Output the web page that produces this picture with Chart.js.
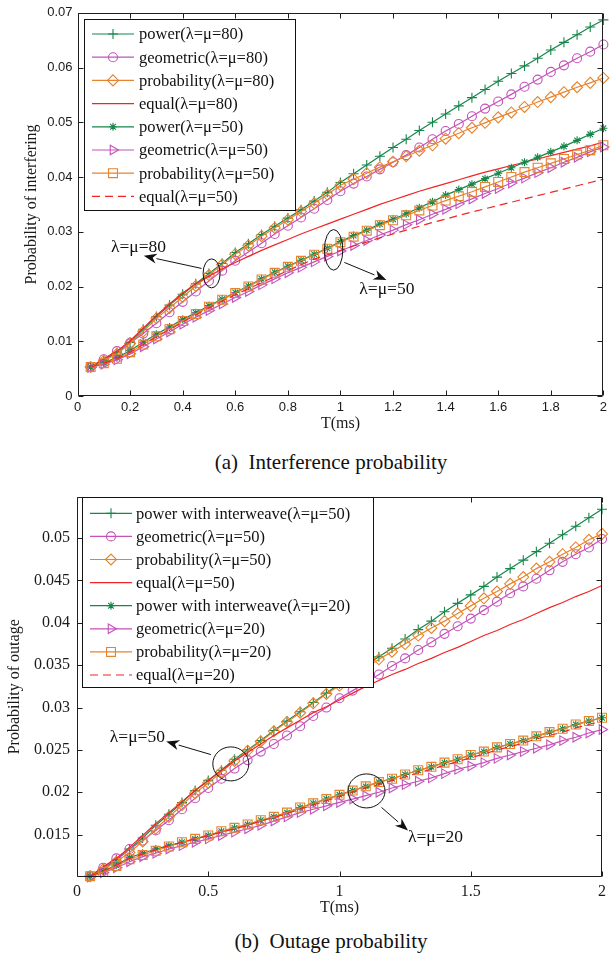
<!DOCTYPE html>
<html>
<head>
<meta charset="utf-8">
<script src="https://cdn.jsdelivr.net/npm/chart.js@4.4.1/dist/chart.umd.min.js"></script>
<style>
  html, body { margin: 0; padding: 0; background: #fff; }
  body { width: 611px; height: 956px; position: relative; overflow: hidden; }
  .panel { position: absolute; left: 0; width: 611px; height: 440px; }
  .cap { position: absolute; left: 0; width: 662px; text-align: center;
         font-family: "Liberation Serif", "Times New Roman", serif; font-size: 21px; color: #111; white-space: pre; }
</style>
</head>
<body>
<div class="panel" style="top:0"><canvas id="interf" width="611" height="440"></canvas></div>
<div class="cap" style="top:450px">(a)  Interference probability</div>
<div class="panel" style="top:480px"><canvas id="outage" width="611" height="440"></canvas></div>
<div class="cap" style="top:929px">(b)  Outage probability</div>

<script>
// ---- slot length T (ms) ----
const T = [0.05, 0.10, 0.15, 0.20, 0.25, 0.30, 0.35, 0.40, 0.45, 0.50,
           0.55, 0.60, 0.65, 0.70, 0.75, 0.80, 0.85, 0.90, 0.95, 1.00,
           1.05, 1.10, 1.15, 1.20, 1.25, 1.30, 1.35, 1.40, 1.45, 1.50,
           1.55, 1.60, 1.65, 1.70, 1.75, 1.80, 1.85, 1.90, 1.95, 2.00];

// ---- (a) probability of interfering ----
const power80 = [.0053,.0066,.0079,.0098,.0122,.0145,.0166,.0186,.0205,.0224,
                 .0242,.0262,.0278,.0295,.0310,.0325,.0340,.0356,.0372,.0390,
                 .0406,.0422,.0438,.0454,.0469,.0485,.0500,.0515,.0530,.0545,
                 .0560,.0575,.0589,.0603,.0617,.0632,.0646,.0660,.0674,.0687];
const geo80   = [.0053,.0067,.0082,.0097,.0114,.0133,.0153,.0172,.0191,.0210,
                 .0229,.0247,.0263,.0279,.0296,.0311,.0326,.0342,.0358,.0374,
                 .0388,.0401,.0414,.0427,.0440,.0454,.0469,.0484,.0497,.0511,
                 .0525,.0538,.0551,.0565,.0578,.0592,.0604,.0617,.0629,.0642];
const prob80  = [.0053,.0064,.0077,.0096,.0118,.0142,.0161,.0181,.0201,.0221,
                 .0240,.0259,.0275,.0292,.0307,.0322,.0337,.0352,.0368,.0385,
                 .0396,.0407,.0418,.0428,.0438,.0448,.0458,.0470,.0480,.0490,
                 .0499,.0509,.0518,.0528,.0537,.0546,.0555,.0564,.0572,.0581];
const equal80 = [.0053,.0068,.0082,.0101,.0124,.0147,.0168,.0188,.0205,.0219,
                 .0232,.0244,.0255,.0266,.0276,.0286,.0296,.0305,.0314,.0323,
                 .0332,.0341,.0350,.0358,.0366,.0374,.0381,.0388,.0395,.0402,
                 .0409,.0415,.0421,.0427,.0433,.0439,.0445,.0451,.0457,.0464];
const power50 = [.0053,.0061,.0070,.0083,.0098,.0113,.0126,.0140,.0152,.0165,
                 .0177,.0189,.0201,.0214,.0226,.0237,.0248,.0259,.0270,.0282,
                 .0293,.0303,.0314,.0323,.0333,.0344,.0355,.0367,.0377,.0387,
                 .0397,.0407,.0417,.0427,.0436,.0446,.0456,.0467,.0478,.0489];
const geo50   = [.0052,.0058,.0066,.0077,.0090,.0104,.0117,.0131,.0144,.0156,
                 .0168,.0180,.0191,.0203,.0214,.0225,.0235,.0245,.0255,.0265,
                 .0275,.0284,.0294,.0303,.0313,.0322,.0332,.0341,.0351,.0360,
                 .0370,.0379,.0389,.0398,.0408,.0417,.0427,.0436,.0446,.0455];
const prob50  = [.0053,.0060,.0068,.0080,.0094,.0109,.0122,.0137,.0150,.0163,
                 .0176,.0188,.0200,.0213,.0225,.0236,.0247,.0258,.0269,.0281,
                 .0291,.0302,.0312,.0321,.0330,.0339,.0348,.0357,.0365,.0373,
                 .0382,.0391,.0400,.0409,.0417,.0425,.0433,.0441,.0449,.0458];
const equal50 = [.0053,.0060,.0068,.0080,.0094,.0108,.0121,.0135,.0148,.0161,
                 .0173,.0185,.0196,.0207,.0218,.0229,.0240,.0250,.0258,.0266,
                 .0274,.0281,.0289,.0296,.0303,.0310,.0317,.0323,.0330,.0336,
                 .0342,.0348,.0354,.0360,.0366,.0372,.0378,.0384,.0390,.0396];

// ---- (b) probability of outage ----
const powerOut50 = [.0101,.0110,.0120,.0133,.0146,.0161,.0174,.0188,.0202,.0214,
                    .0226,.0239,.0250,.0261,.0273,.0284,.0295,.0306,.0317,.0328,
                    .0339,.0350,.0360,.0370,.0381,.0392,.0402,.0413,.0423,.0433,
                    .0443,.0454,.0464,.0474,.0484,.0494,.0504,.0514,.0524,.0534];
const geoOut50   = [.0101,.0111,.0122,.0133,.0143,.0155,.0167,.0180,.0193,.0205,
                    .0216,.0228,.0238,.0248,.0257,.0267,.0278,.0290,.0300,.0311,
                    .0320,.0329,.0339,.0349,.0358,.0368,.0377,.0387,.0396,.0405,
                    .0415,.0425,.0435,.0443,.0452,.0462,.0472,.0481,.0489,.0499];
const probOut50  = [.0101,.0109,.0118,.0129,.0142,.0157,.0171,.0185,.0199,.0211,
                    .0224,.0237,.0249,.0260,.0272,.0283,.0294,.0305,.0316,.0326,
                    .0336,.0347,.0357,.0366,.0375,.0385,.0394,.0402,.0411,.0420,
                    .0429,.0437,.0446,.0454,.0464,.0472,.0481,.0489,.0498,.0505];
const equalOut50 = [.0101,.0112,.0122,.0135,.0149,.0163,.0176,.0189,.0202,.0214,
                    .0226,.0237,.0247,.0257,.0267,.0276,.0285,.0294,.0301,.0309,
                    .0317,.0325,.0332,.0339,.0345,.0352,.0358,.0365,.0371,.0378,
                    .0385,.0391,.0398,.0404,.0411,.0418,.0424,.0431,.0437,.0444];
const powerOut20 = [.0101,.0107,.0114,.0123,.0128,.0133,.0137,.0141,.0145,.0149,
                    .0154,.0158,.0162,.0167,.0171,.0176,.0182,.0187,.0192,.0197,
                    .0202,.0207,.0212,.0216,.0221,.0226,.0230,.0235,.0239,.0244,
                    .0248,.0253,.0257,.0261,.0266,.0271,.0275,.0280,.0284,.0288];
const geoOut20   = [.0100,.0105,.0111,.0118,.0124,.0128,.0133,.0137,.0141,.0145,
                    .0149,.0153,.0157,.0161,.0166,.0171,.0176,.0180,.0184,.0188,
                    .0192,.0196,.0200,.0205,.0209,.0213,.0217,.0222,.0227,.0231,
                    .0235,.0240,.0244,.0248,.0252,.0256,.0261,.0265,.0270,.0274];
const probOut20  = [.0101,.0106,.0113,.0121,.0126,.0131,.0136,.0141,.0145,.0149,
                    .0154,.0158,.0162,.0167,.0171,.0176,.0182,.0187,.0192,.0197,
                    .0202,.0207,.0212,.0216,.0221,.0226,.0230,.0235,.0239,.0244,
                    .0248,.0253,.0257,.0261,.0266,.0271,.0275,.0280,.0284,.0288];
const equalOut20 = [.0101,.0107,.0114,.0122,.0127,.0132,.0137,.0141,.0145,.0149,
                    .0153,.0157,.0161,.0166,.0170,.0175,.0180,.0185,.0190,.0195,
                    .0200,.0205,.0209,.0214,.0218,.0223,.0227,.0232,.0236,.0241,
                    .0245,.0250,.0254,.0258,.0263,.0267,.0271,.0276,.0280,.0284];

// ---- axis ticks ----
const interfTicksX = [0, 0.2, 0.4, 0.6, 0.8, 1, 1.2, 1.4, 1.6, 1.8, 2];
const interfTicksY = [0, 0.01, 0.02, 0.03, 0.04, 0.05, 0.06, 0.07];
const outageTicksX = [0, 0.5, 1, 1.5, 2];
const outageTicksY = [0.015, 0.02, 0.025, 0.03, 0.035, 0.04, 0.045, 0.05];

// ---------------------------------------------------------------
const GREEN = '#16864a', MAGENTA = '#c452b8', ORANGE = '#e6832c', RED = '#f02626';
const SERIF = '"Liberation Serif", "Times New Roman", serif';
const SANS = '"Liberation Sans", Arial, sans-serif';

const MARK = {
  plus:    { pointStyle: 'cross', pointRadius: 5 },
  circle:  { pointStyle: 'circle', pointRadius: 4.5 },
  diamond: { pointStyle: 'rectRot', pointRadius: 5.5 },
  star:    { pointStyle: 'star', pointRadius: 4 },
  tri:     { pointStyle: 'triangle', pointRadius: 5.5, pointRotation: 90 },
  square:  { pointStyle: 'rect', pointRadius: 6.3 },
  none:    { pointRadius: 0 },
  dashed:  { pointRadius: 0, borderDash: [8, 5] }
};

function series(label, values, color, mark, idx) {
  return Object.assign({
    label,
    data: T.map((t, i) => ({ x: t, y: values[i] })),
    borderColor: color, borderWidth: 1.2,
    pointBorderColor: color, pointBackgroundColor: 'rgba(0,0,0,0)',
    pointBorderWidth: 1.1, pointHoverRadius: 0, pointRotation: 0,
    tension: 0, fill: false, clip: false, order: -idx
  }, MARK[mark]);
}

const fmt = v => String(+Number(v).toFixed(4));

function axis(ticksList, min, max, fontSpec, labelPad, title, titleFont, titlePad, size, isX) {
  return {
    type: 'linear', min, max,
    afterBuildTicks: sc => { sc.ticks = ticksList.map(v => ({ value: v })); },
    ticks: { font: fontSpec, color: '#1a1a1a', padding: labelPad, autoSkip: false,
             maxRotation: 0, callback: v => fmt(v) },
    grid: { display: false, drawTicks: false },
    border: { display: false },
    title: { display: true, text: title, font: titleFont, color: '#1a1a1a', padding: titlePad },
    afterFit: sc => { if (isX) sc.height = size; else sc.width = size; }
  };
}

// frame box with inward tick marks on all four sides, callouts, legend
const decor = {
  id: 'decor',
  afterDraw(chart, args, opts) {
    const { ctx, chartArea: a, scales: { x, y } } = chart;
    const L = Math.round(a.left) + 0.5, R = Math.round(a.right) - 0.5;
    const Tp = Math.round(a.top) + 0.5, B = Math.round(a.bottom) - 0.5;
    ctx.save();
    ctx.strokeStyle = '#1e1e1e';
    ctx.lineWidth = 1;
    ctx.beginPath();
    ctx.rect(L, Tp, R - L, B - Tp);
    const tl = 5;
    x.ticks.forEach(t => {
      const px = Math.round(x.getPixelForValue(t.value)) + 0.5;
      ctx.moveTo(px, B); ctx.lineTo(px, B - tl);
      ctx.moveTo(px, Tp); ctx.lineTo(px, Tp + tl);
    });
    y.ticks.forEach(t => {
      const py = Math.round(y.getPixelForValue(t.value)) + 0.5;
      ctx.moveTo(L, py); ctx.lineTo(L + tl, py);
      ctx.moveTo(R, py); ctx.lineTo(R - tl, py);
    });
    ctx.stroke();

    // ellipse around a group of curves, arrow pointing to its label
    (opts.callouts || []).forEach(c => {
      const cx = x.getPixelForValue(c.at[0]), cy = y.getPixelForValue(c.at[1]);
      ctx.strokeStyle = '#111'; ctx.lineWidth = 1;
      ctx.beginPath(); ctx.ellipse(cx, cy, c.rx, c.ry, 0, 0, Math.PI * 2); ctx.stroke();
      const x0 = x.getPixelForValue(c.from[0]), y0 = y.getPixelForValue(c.from[1]);
      const x1 = x.getPixelForValue(c.to[0]), y1 = y.getPixelForValue(c.to[1]);
      const ang = Math.atan2(y1 - y0, x1 - x0);
      const hl = 13, hw = 5;
      const bx = x1 - hl * Math.cos(ang), by = y1 - hl * Math.sin(ang);
      ctx.beginPath(); ctx.moveTo(x0, y0); ctx.lineTo(bx, by); ctx.stroke();
      const nx = -Math.sin(ang), ny = Math.cos(ang);
      const ix = x1 - hl * 0.7 * Math.cos(ang), iy = y1 - hl * 0.7 * Math.sin(ang);
      ctx.fillStyle = '#111';
      ctx.beginPath();
      ctx.moveTo(x1, y1);
      ctx.lineTo(bx + nx * hw, by + ny * hw);
      ctx.lineTo(ix, iy);
      ctx.lineTo(bx - nx * hw, by - ny * hw);
      ctx.closePath(); ctx.fill();
      ctx.font = '17.5px ' + SERIF;
      ctx.textBaseline = 'middle'; ctx.textAlign = 'left';
      ctx.fillText(c.text, x.getPixelForValue(c.textAt[0]), y.getPixelForValue(c.textAt[1]));
    });

    // legend box
    const lg = opts.legend;
    if (lg) {
      ctx.fillStyle = '#fff';
      ctx.fillRect(lg.x, lg.y, lg.w, lg.h);
      ctx.strokeStyle = '#111'; ctx.lineWidth = 1;
      ctx.strokeRect(lg.x + 0.5, lg.y + 0.5, lg.w, lg.h);
      chart.data.datasets.forEach((ds, i) => {
        const yy = lg.firstY + i * lg.step;
        ctx.strokeStyle = ds.borderColor; ctx.lineWidth = ds.borderWidth;
        ctx.setLineDash(ds.borderDash || []);
        ctx.beginPath(); ctx.moveTo(lg.x0, yy); ctx.lineTo(lg.x1, yy); ctx.stroke();
        ctx.setLineDash([]);
        if (ds.pointRadius > 0) {
          ctx.strokeStyle = ds.pointBorderColor; ctx.fillStyle = 'rgba(0,0,0,0)';
          ctx.lineWidth = ds.pointBorderWidth;
          Chart.helpers.drawPoint(ctx, { pointStyle: ds.pointStyle, radius: ds.pointRadius,
            rotation: ds.pointRotation || 0, borderWidth: ds.pointBorderWidth }, (lg.x0 + lg.x1) / 2, yy);
        }
        ctx.fillStyle = '#111';
        ctx.font = '16.5px ' + SERIF;
        ctx.textBaseline = 'middle'; ctx.textAlign = 'left';
        ctx.fillText(ds.label, lg.tx, yy + 1);
      });
    }
    ctx.restore();
  }
};

// ---- (a) Interference probability ----
new Chart(document.getElementById('interf'), {
  type: 'line',
  data: {
    datasets: [
      series('power(λ=μ=80)', power80, GREEN, 'plus', 0),
      series('geometric(λ=μ=80)', geo80, MAGENTA, 'circle', 1),
      series('probability(λ=μ=80)', prob80, ORANGE, 'diamond', 2),
      series('equal(λ=μ=80)', equal80, RED, 'none', 3),
      series('power(λ=μ=50)', power50, GREEN, 'star', 4),
      series('geometric(λ=μ=50)', geo50, MAGENTA, 'tri', 5),
      series('probability(λ=μ=50)', prob50, ORANGE, 'square', 6),
      series('equal(λ=μ=50)', equal50, RED, 'dashed', 7)
    ]
  },
  options: {
    responsive: false, animation: false, devicePixelRatio: 1,
    layout: { padding: { top: 12, right: 6, bottom: 7, left: 0 } },
    scales: {
      x: axis(interfTicksX, 0, 2, { family: SANS, size: 13 }, 4, 'T(ms)',
              { family: SERIF, size: 16 }, { top: 0, bottom: 0 }, 37, true),
      y: axis(interfTicksY, 0, 0.07, { family: SANS, size: 13 }, 5, 'Probability of interfering',
              { family: SERIF, size: 16 }, { top: 22, bottom: 0 }, 77.5, false)
    },
    plugins: {
      legend: { display: false }, tooltip: { enabled: false },
      decor: {
        legend: { x: 84, y: 19, w: 211, h: 191, firstY: 34, step: 23.2, x0: 92, x1: 134, tx: 139 },
        callouts: [
          { at: [0.51, 0.0224], rx: 8.5, ry: 14.5, from: [0.472, 0.0233], to: [0.252, 0.0256],
            text: 'λ=μ=80', textAt: [0.127, 0.0271] },
          { at: [0.974, 0.0267], rx: 9.2, ry: 20.3, from: [1.015, 0.0244], to: [1.175, 0.0212],
            text: 'λ=μ=50', textAt: [1.072, 0.01945] }
        ]
      }
    }
  },
  plugins: [decor]
});

// ---- (b) Outage probability ----
new Chart(document.getElementById('outage'), {
  type: 'line',
  data: {
    datasets: [
      series('power with interweave(λ=μ=50)', powerOut50, GREEN, 'plus', 0),
      series('geometric(λ=μ=50)', geoOut50, MAGENTA, 'circle', 1),
      series('probability(λ=μ=50)', probOut50, ORANGE, 'diamond', 2),
      series('equal(λ=μ=50)', equalOut50, RED, 'none', 3),
      series('power with interweave(λ=μ=20)', powerOut20, GREEN, 'star', 4),
      series('geometric(λ=μ=20)', geoOut20, MAGENTA, 'tri', 5),
      series('probability(λ=μ=20)', probOut20, ORANGE, 'square', 6),
      series('equal(λ=μ=20)', equalOut20, RED, 'dashed', 7)
    ]
  },
  options: {
    responsive: false, animation: false, devicePixelRatio: 1,
    layout: { padding: { top: 14, right: 6, bottom: 3, left: 0 } },
    scales: {
      x: axis(outageTicksX, 0, 2, { family: SERIF, size: 16 }, 5, 'T(ms)',
              { family: SERIF, size: 16 }, { top: 0, bottom: 0 }, 40, true),
      y: axis(outageTicksY, 0.01, 0.0549, { family: SERIF, size: 16 }, 7, 'Probability of outage',
              { family: SERIF, size: 16 }, { top: 5, bottom: 0 }, 77, false)
    },
    plugins: {
      legend: { display: false }, tooltip: { enabled: false },
      decor: {
        legend: { x: 82, y: 17, w: 291, h: 190, firstY: 33.3, step: 23.1, x0: 90, x1: 132, tx: 136 },
        callouts: [
          { at: [0.586, 0.02335], rx: 18, ry: 17, from: [0.510, 0.02445], to: [0.340, 0.0260],
            text: 'λ=μ=50', textAt: [0.125, 0.02647] },
          { at: [1.103, 0.02016], rx: 18.5, ry: 17, from: [1.160, 0.01821], to: [1.261, 0.01549],
            text: 'λ=μ=20', textAt: [1.261, 0.01467] }
        ]
      }
    }
  },
  plugins: [decor]
});
</script>
</body>
</html>
